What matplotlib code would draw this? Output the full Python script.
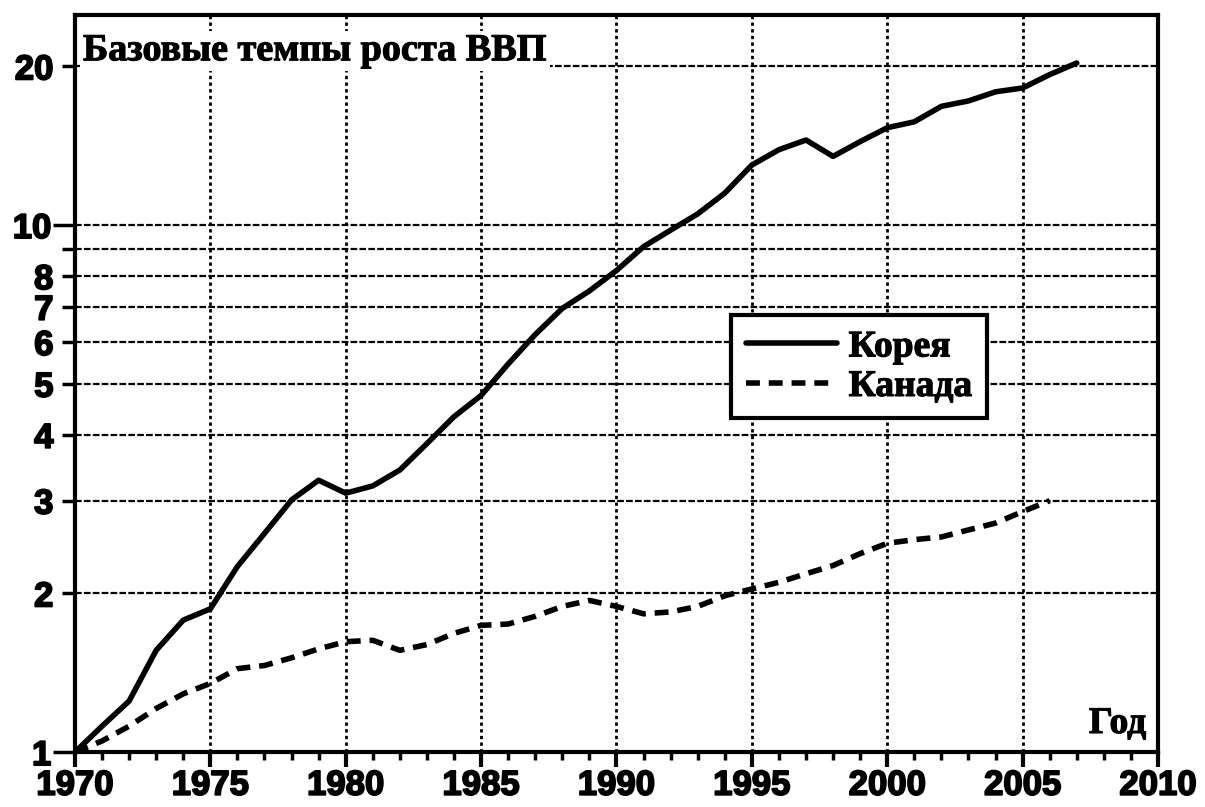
import matplotlib
matplotlib.use("Agg")
import matplotlib.pyplot as plt
import matplotlib.patheffects as pe
from matplotlib.ticker import FixedLocator, FixedFormatter, MultipleLocator

years_korea = list(range(1970, 2008))
korea = [1.0, 1.12, 1.25, 1.56, 1.78, 1.87, 2.25, 2.60, 3.01, 3.28,
         3.10, 3.20, 3.43, 3.85, 4.33, 4.75, 5.45, 6.2, 6.95, 7.5,
         8.2, 9.1, 9.78, 10.5, 11.5, 13.0, 13.9, 14.5, 13.5, 14.4,
         15.3, 15.7, 16.8, 17.2, 17.9, 18.2, 19.3, 20.3]

years_canada = list(range(1970, 2007))
canada = [1.0, 1.05, 1.12, 1.21, 1.29, 1.35, 1.44, 1.46, 1.51, 1.57,
          1.62, 1.63, 1.56, 1.60, 1.68, 1.74, 1.75, 1.81, 1.89, 1.94,
          1.89, 1.83, 1.845, 1.89, 1.98, 2.04, 2.10, 2.18, 2.26, 2.38,
          2.49, 2.53, 2.56, 2.64, 2.72, 2.86, 3.0]

y_decade_ticks = [1, 10]
y_decade_labels = ["1", "10"]
y_minor_ticks = [2, 3, 4, 5, 6, 7, 8, 9, 20]
y_minor_labels = ["2", "3", "4", "5", "6", "7", "8", "", "20"]
x_ticks = [1970, 1975, 1980, 1985, 1990, 1995, 2000, 2005, 2010]

title_text = "Базовые темпы роста ВВП"
x_label_text = "Год"
label_korea = "Корея"
label_canada = "Канада"

serif = "Liberation Serif"
sans = "Liberation Sans"

fig = plt.figure(figsize=(12.05, 8.07), dpi=100)
ax = fig.add_axes([0.0622, 0.068, 0.8988, 0.913])

ax.set_yscale("log")
ax.set_xlim(1970, 2010)
ax.set_ylim(1, 25)

ax.plot(years_korea, korea, color="black", lw=4.0, solid_capstyle="round",
        label=label_korea, zorder=3)
ax.plot(years_canada, canada, color="black", lw=4.0, dashes=(2.5, 1.6),
        label=label_canada, zorder=3)

ax.yaxis.set_major_locator(FixedLocator(y_decade_ticks))
ax.yaxis.set_major_formatter(FixedFormatter(y_decade_labels))
ax.yaxis.set_minor_locator(FixedLocator(y_minor_ticks))
ax.yaxis.set_minor_formatter(FixedFormatter(y_minor_labels))
ax.xaxis.set_major_locator(FixedLocator(x_ticks))
ax.xaxis.set_minor_locator(MultipleLocator(1))

heavy = [pe.withStroke(linewidth=1.3, foreground="black")]
ax.tick_params(axis="x", which="major", direction="out", length=11, width=3, pad=1)
ax.tick_params(axis="x", which="minor", direction="out", length=6, width=2.5)
ax.tick_params(axis="y", which="major", direction="out", length=16, width=2.5, pad=1)
ax.tick_params(axis="y", which="minor", direction="out", length=9.5, width=2.5, pad=6)

for lab in (ax.get_xticklabels() + ax.get_yticklabels() +
            ax.get_yticklabels(minor=True)):
    lab.set_fontfamily(sans)
    lab.set_fontweight("bold")
    lab.set_fontsize(25)
    lab.set_path_effects(heavy)

ax.grid(axis="y", which="both", color="black", lw=1.6, linestyle=(0, (3, 1)))
ax.grid(axis="x", which="major", color="black", lw=2.0, linestyle=(0, (1.2, 1.2)))
ax.set_axisbelow(True)

for sp in ax.spines.values():
    sp.set_linewidth(3)

serif_heavy = [pe.withStroke(linewidth=0.8, foreground="black")]
t = ax.text(0.0074, 0.939, title_text, transform=ax.transAxes, ha="left", va="baseline",
            fontfamily=serif, fontweight="bold", fontsize=27.5,
            bbox=dict(facecolor="white", edgecolor="none", pad=2), zorder=4)
t.set_path_effects(serif_heavy)
g = ax.text(0.989, 0.026, x_label_text, transform=ax.transAxes, ha="right", va="baseline",
            fontfamily=serif, fontweight="bold", fontsize=27, zorder=4)
g.set_path_effects(serif_heavy)

leg = ax.legend(loc="upper left", bbox_to_anchor=(0.606, 0.593), borderaxespad=0,
                prop=dict(family=serif, weight="bold", size=27),
                frameon=True, fancybox=False, framealpha=1, edgecolor="black",
                handlelength=2.45, handletextpad=0.3, labelspacing=0.12,
                borderpad=0.38)
leg.get_frame().set_linewidth(3)
leg.set_zorder(5)
for txt in leg.get_texts():
    txt.set_path_effects(serif_heavy)

fig.savefig("out.png", dpi=100)
